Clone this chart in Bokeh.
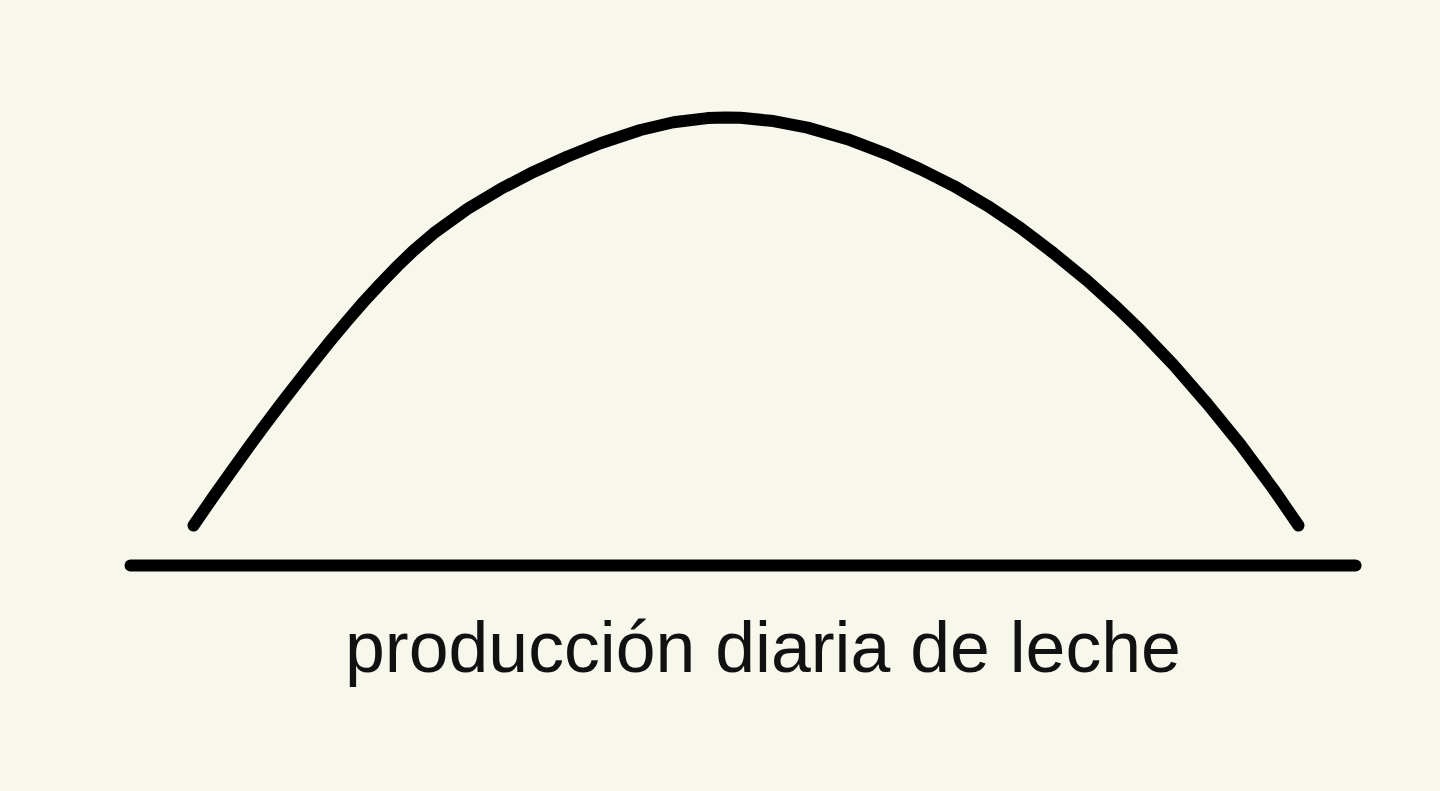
from bokeh.plotting import figure
from bokeh.models import Range1d, Label
from bokeh.embed import file_html
from bokeh.resources import INLINE

# Lactation curve (day of lactation, kg of milk per day)
days = [0, 5.43, 10.05, 14.66, 19.00, 23.62, 28.24, 32.58, 37.20, 41.81, 46.15,
        50.77, 55.39, 59.73, 65.16, 74.39, 83.35, 92.31, 101.54, 110.50, 121.36,
        130.32, 139.55, 144.44, 148.51, 157.47, 166.70, 177.56, 188.42, 197.38,
        206.34, 215.57, 224.53, 233.49, 242.72, 250.86, 257.11, 266.07, 275.30,
        284.26, 293.22, 300.00]
milk = [2.69, 4.64, 6.26, 7.85, 9.32, 10.84, 12.32, 13.69, 15.11, 16.48, 17.72,
        18.96, 20.14, 21.18, 22.33, 23.98, 25.32, 26.47, 27.51, 28.40, 29.29,
        29.81, 30.09, 30.13, 30.11, 29.89, 29.45, 28.67, 27.65, 26.65, 25.54,
        24.19, 22.70, 21.01, 19.14, 17.32, 15.82, 13.49, 10.86, 8.13, 5.13, 2.69]

axis_label = "producción diaria de leche"

BG = "#F7F7EB"

p = figure(width=1440, height=791, output_backend="svg", toolbar_location=None,
           x_range=Range1d(-52.40, 338.56), y_range=Range1d(-15.20, 38.00),
           min_border=0, min_border_left=0, min_border_right=0,
           min_border_top=0, min_border_bottom=0)
p.background_fill_color = BG
p.border_fill_color = BG
p.outline_line_color = None
p.axis.visible = False
p.grid.visible = False

# baseline (x axis line)
p.segment(x0=[-17.1], y0=[0], x1=[315.5], y1=[0], line_color="black",
          line_width=12, line_cap="round")

# curve
p.line(days, milk, line_color="black", line_width=12, line_cap="round", line_join="round")

lab = Label(x=154.6, y=-5.51, text=axis_label, text_align="center",
            text_baseline="alphabetic", text_font="Liberation Sans",
            text_font_size="71.6px", text_color="#111111")
p.add_layout(lab)

html = file_html(p, INLINE)
style = "<style>html,body{margin:0;padding:0;background:%s;overflow:hidden}</style>" % BG
html = html.replace("</head>", style + "</head>", 1)
open("out.html", "w").write(html)
